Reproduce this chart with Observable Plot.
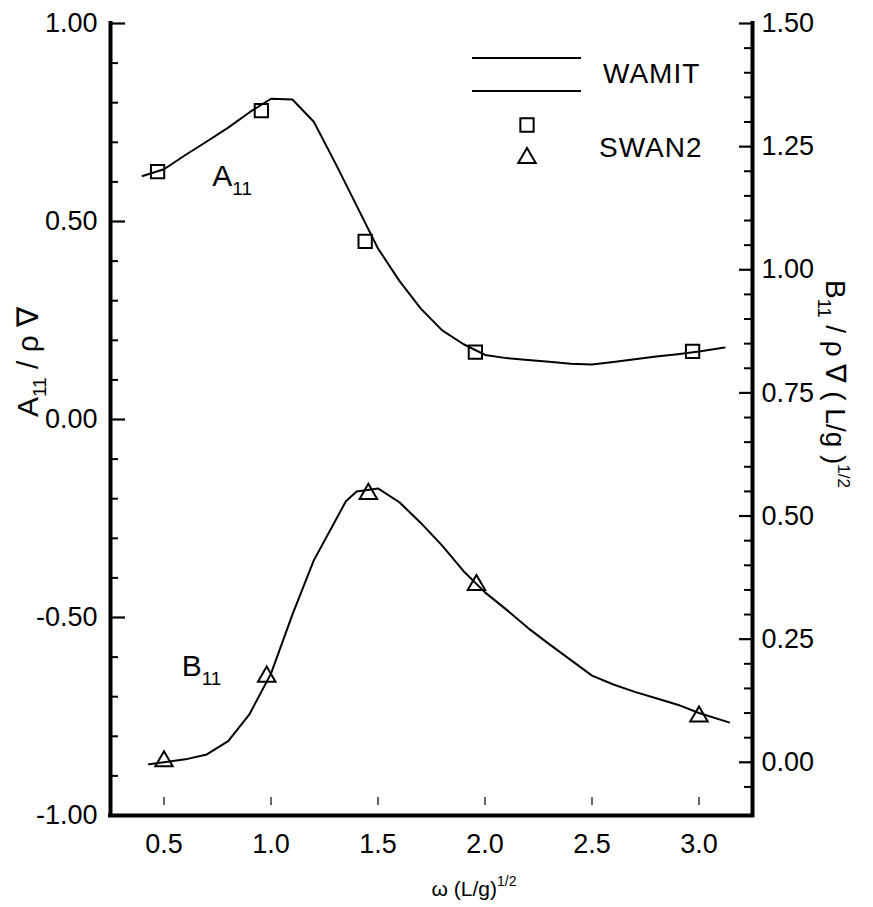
<!DOCTYPE html>
<html>
<head>
<meta charset="utf-8">
<script src="https://cdn.jsdelivr.net/npm/d3@7"></script>
<script src="https://cdn.jsdelivr.net/npm/@observablehq/plot@0.6"></script>
<style>
  body { margin: 0; background: #fff; }
</style>
</head>
<body>
<div id="chart"></div>
<script>
// ---------- data ----------
// WAMIT A11 curve (left axis)
const aCurveOmega = [0.40, 0.5, 0.6, 0.7, 0.8, 0.9, 1.0, 1.1, 1.2, 1.3, 1.4, 1.5, 1.6, 1.7, 1.8, 1.9, 2.0, 2.1, 2.2, 2.3, 2.4, 2.5, 2.6, 2.7, 2.8, 2.9, 3.0, 3.12];
const aCurveValue = [0.615, 0.632, 0.668, 0.702, 0.737, 0.776, 0.810, 0.808, 0.752, 0.648, 0.540, 0.432, 0.350, 0.280, 0.225, 0.190, 0.163, 0.155, 0.150, 0.146, 0.141, 0.139, 0.145, 0.152, 0.159, 0.165, 0.172, 0.182];
// WAMIT B11 curve (right axis)
const bCurveOmega = [0.43, 0.5, 0.6, 0.7, 0.8, 0.9, 1.0, 1.1, 1.2, 1.3, 1.35, 1.4, 1.5, 1.6, 1.7, 1.8, 1.9, 2.0, 2.1, 2.2, 2.3, 2.4, 2.5, 2.6, 2.7, 2.8, 2.9, 3.0, 3.14];
const bCurveValue = [-0.004, 0.000, 0.006, 0.016, 0.043, 0.098, 0.180, 0.300, 0.410, 0.490, 0.530, 0.550, 0.556, 0.528, 0.486, 0.440, 0.388, 0.345, 0.310, 0.273, 0.240, 0.208, 0.176, 0.158, 0.143, 0.130, 0.117, 0.100, 0.081];
// SWAN2 points
const swanAOmega = [0.47, 0.955, 1.44, 1.955, 2.97];
const swanAValue = [0.626, 0.780, 0.450, 0.170, 0.172];
const swanBOmega = [0.50, 0.98, 1.455, 1.96, 3.0];
const swanBValue = [0.002, 0.174, 0.545, 0.360, 0.093];

// ticks
const xTickValues = [0.5, 1.0, 1.5, 2.0, 2.5, 3.0];
const aMajorTicks = [-1.0, -0.5, 0.0, 0.5, 1.0];
const aMinorTicks = [-0.9, -0.8, -0.7, -0.6, -0.4, -0.3, -0.2, -0.1, 0.1, 0.2, 0.3, 0.4, 0.6, 0.7, 0.8, 0.9];
const bMajorTicks = [0.0, 0.25, 0.5, 0.75, 1.0, 1.25, 1.5];
const bMinorTicks = [-0.05, 0.05, 0.10, 0.15, 0.20, 0.30, 0.35, 0.40, 0.45, 0.55, 0.60, 0.65, 0.70, 0.80, 0.85, 0.90, 0.95, 1.05, 1.10, 1.15, 1.20, 1.30, 1.35, 1.40, 1.45];

// ---------- layout ----------
const W = 873, H = 907;
const mL = 110, mR = 121, mT = 23, mB = 92;
const plotW = W - mL - mR;
const plotH = H - mT - mB;
const xDomain = [0.25, 3.25];
const aDomain = [-1, 1];
const bDomain = [-0.108, 1.5];
const toA = b => aDomain[0] + (b - bDomain[0]) / (bDomain[1] - bDomain[0]) * (aDomain[1] - aDomain[0]);
const fromA = a => bDomain[0] + (a - aDomain[0]) / (aDomain[1] - aDomain[0]) * (bDomain[1] - bDomain[0]);
const fmt2 = v => { const r = Math.round(v * 100) / 100; return (r === 0 ? 0 : r).toFixed(2); };
const font = "'Liberation Sans', Arial, Helvetica, sans-serif";

const aCurve = aCurveOmega.map((x, i) => ({x, y: aCurveValue[i]}));
const bCurve = bCurveOmega.map((x, i) => ({x, b: bCurveValue[i]}));
const swanA = swanAOmega.map((x, i) => ({x, y: swanAValue[i]}));
const swanB = swanBOmega.map((x, i) => ({x, b: swanBValue[i]}));

const squareR = 7.5, triR = 6.5;

const plot = Plot.plot({
  width: W, height: H,
  marginLeft: mL, marginRight: mR, marginTop: mT, marginBottom: mB,
  x: {domain: xDomain},
  y: {domain: aDomain},
  style: {fontFamily: font, background: "#fff", color: "#000", overflow: "visible"},
  marks: [
    // tick labels
    Plot.axisY({anchor: "left", ticks: aMajorTicks, tickSize: 0, tickPadding: 13, fontSize: 27,
      tickFormat: fmt2, label: null}),
    Plot.axisY({anchor: "right", ticks: bMajorTicks.map(toA), tickSize: 0, tickPadding: 9, fontSize: 27,
      tickFormat: d => fmt2(fromA(d)), label: null}),
    Plot.axisX({ticks: xTickValues, tickSize: 0, tickPadding: 18, fontSize: 27,
      tickFormat: d => d.toFixed(1), label: null}),
    // inward tick marks
    Plot.tickY(aMajorTicks, {y: d => d, insetRight: plotW - 15, strokeWidth: 2.2, stroke: "#000"}),
    Plot.tickY(aMinorTicks, {y: d => d, insetRight: plotW - 8, strokeWidth: 2, stroke: "#000"}),
    Plot.tickY(bMajorTicks, {y: d => toA(d), insetLeft: plotW - 13, strokeWidth: 2.2, stroke: "#000"}),
    Plot.tickY(bMinorTicks, {y: d => toA(d), insetLeft: plotW - 8, strokeWidth: 2, stroke: "#000"}),
    Plot.tickX(xTickValues, {x: d => d, insetTop: plotH - 18, insetBottom: 10, strokeWidth: 1.5, stroke: "#333"}),
    // frame
    Plot.ruleX([xDomain[0], xDomain[1]], {strokeWidth: 4, stroke: "#000", strokeLinecap: "square"}),
    Plot.ruleY([aDomain[0]], {strokeWidth: 4, stroke: "#000", strokeLinecap: "square"}),
    // WAMIT curves
    Plot.line(aCurve, {x: "x", y: "y", stroke: "#000", strokeWidth: 2}),
    Plot.line(bCurve, {x: "x", y: d => toA(d.b), stroke: "#000", strokeWidth: 2}),
    // SWAN2 points
    Plot.dot(swanA, {x: "x", y: "y", symbol: "square", r: squareR, stroke: "#000", strokeWidth: 2, fill: "none"}),
    Plot.dot(swanB, {x: "x", y: d => toA(d.b), symbol: "triangle", r: triR, stroke: "#000", strokeWidth: 2, fill: "none"})
  ]
});

document.getElementById("chart").append(plot);

// ---------- text annotations, titles, legend ----------
const svg = d3.select(plot);
const sx = plot.scale("x"), sy = plot.scale("y");

function richText(parent, parts, baseSize, anchor) {
  const text = parent.append("text")
    .attr("font-family", font)
    .attr("font-size", baseSize)
    .attr("text-anchor", anchor || "start")
    .attr("fill", "#000");
  let shift = 0;
  for (const p of parts) {
    const s = p.shift || 0;
    text.append("tspan")
      .attr("dy", s - shift)
      .attr("font-size", p.size || baseSize)
      .text(p.t);
    shift = s;
  }
  return text;
}

// curve labels
richText(svg, [{t: "A"}, {t: "11", size: 19, shift: 9}], 30)
  .attr("x", sx.apply(0.728)).attr("y", sy.apply(0.588));
richText(svg, [{t: "B"}, {t: "11", size: 19, shift: 9}], 30)
  .attr("x", sx.apply(0.585)).attr("y", sy.apply(toA(0.174)));

// left axis title
richText(svg, [{t: "A"}, {t: "11", size: 19, shift: 8}, {t: " / ρ ∇"}], 30, "middle")
  .attr("transform", "translate(38,362) rotate(-90)");

// right axis title
richText(svg, [{t: "B"}, {t: "11", size: 18, shift: 8}, {t: " / ρ ∇ ( L/g )"}, {t: "1/2", size: 17, shift: -12}], 28, "middle")
  .attr("transform", "translate(826,384) rotate(90)");

// x axis title
richText(svg, [{t: "ω (L/g)"}, {t: "1/2", size: 14, shift: -10}], 21, "middle")
  .attr("x", 474).attr("y", 896);

// legend
const lg = svg.append("g");
[58, 91].forEach(y => {
  lg.append("line").attr("x1", 472).attr("x2", 581).attr("y1", y).attr("y2", y)
    .attr("stroke", "#000").attr("stroke-width", 2);
});
lg.append("path").attr("d", d3.symbol(d3.symbolSquare, Math.PI * squareR * squareR)())
  .attr("transform", "translate(527,125)").attr("fill", "none").attr("stroke", "#000").attr("stroke-width", 2);
lg.append("path").attr("d", d3.symbol(d3.symbolTriangle, Math.PI * triR * triR)())
  .attr("transform", "translate(527,158)").attr("fill", "none").attr("stroke", "#000").attr("stroke-width", 2);
richText(lg, [{t: "WAMIT"}], 28).attr("x", 603).attr("y", 83).attr("letter-spacing", 1);
richText(lg, [{t: "SWAN2"}], 28).attr("x", 599).attr("y", 157).attr("letter-spacing", 1);
</script>
</body>
</html>
